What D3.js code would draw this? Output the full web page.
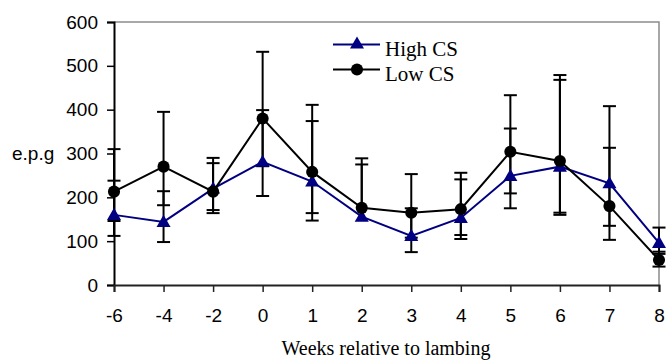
<!DOCTYPE html>
<html>
<head>
<meta charset="utf-8">
<script src="https://cdn.jsdelivr.net/npm/d3@7"></script>
<style>
  html, body { margin: 0; padding: 0; background: #fff; }
  svg { display: block; }
</style>
</head>
<body>
<svg id="chart" width="666" height="360"></svg>
<script>
// Weeks relative to lambing
const weeks = ["-6", "-4", "-2", "0", "1", "2", "3", "4", "5", "6", "7", "8"];
const yTicks = [0, 100, 200, 300, 400, 500, 600];

// High CS: mean e.p.g with lower / upper error limits
const highMean  = [160, 144, 220, 281, 236, 156, 112, 153, 249, 270, 232, 96];
const highLower = [112,  98, 171, 203, 147, 156,  75, 105, 175, 160, 135, 71];
const highUpper = [238, 214, 290, 399, 374, 289, 175, 241, 357, 468, 408, 131];

// Low CS: mean e.p.g with lower / upper error limits
const lowMean  = [213, 270, 213, 380, 258, 176, 165, 173, 304, 283, 180, 57];
const lowLower = [146, 182, 164, 271, 164, 176, 108, 114, 209, 165, 103, 42];
const lowUpper = [310, 395, 278, 532, 411, 275, 253, 256, 433, 479, 313, 76];

const series = [
  { name: "High CS", color: "#000080", symbol: d3.symbolTriangle, mean: highMean, lower: highLower, upper: highUpper },
  { name: "Low CS",  color: "#000000", symbol: d3.symbolCircle,   mean: lowMean,  lower: lowLower,  upper: lowUpper }
];

const svg = d3.select("#chart");
const plot = { left: 114, right: 659, top: 22, bottom: 285 };

const x = d3.scalePoint().domain(weeks).range([plot.left, plot.right]).padding(0);
const y = d3.scaleLinear().domain([0, 600]).range([plot.bottom, plot.top]);

// Frame: grey top and right edges
svg.append("path")
  .attr("d", `M${plot.left},${plot.top}H${plot.right}V${plot.bottom}`)
  .attr("fill", "none").attr("stroke", "#8c8c8c").attr("stroke-width", 1.5);

// Y axis
const yAxis = svg.append("g")
  .attr("transform", `translate(${plot.left},0)`)
  .call(d3.axisLeft(y).tickValues(yTicks).tickSize(7).tickPadding(9).tickFormat(d3.format("d")));
yAxis.select(".domain").attr("stroke", "#000").attr("stroke-width", 2);
yAxis.selectAll(".tick line").attr("stroke", "#000").attr("stroke-width", 1.5);
yAxis.selectAll(".tick text")
  .attr("font-family", "Liberation Sans, Arial, sans-serif")
  .attr("font-size", 19).attr("fill", "#000");

// X axis
const xAxis = svg.append("g")
  .attr("transform", `translate(0,${plot.bottom})`)
  .call(d3.axisBottom(x).tickSize(7).tickPadding(17));
xAxis.select(".domain").attr("stroke", "#222").attr("stroke-width", 2);
xAxis.selectAll(".tick line").attr("stroke", "#222").attr("stroke-width", 1.5);
xAxis.selectAll(".tick text")
  .attr("font-family", "Liberation Sans, Arial, sans-serif")
  .attr("font-size", 19).attr("fill", "#000");

// Axis titles
svg.append("text")
  .attr("x", 12).attr("y", y(300)).attr("dy", "0.35em")
  .attr("font-family", "Liberation Sans, Arial, sans-serif")
  .attr("font-size", 19).attr("fill", "#000")
  .text("e.p.g");

svg.append("text")
  .attr("x", 386).attr("y", 355)
  .attr("text-anchor", "middle")
  .attr("font-family", "Liberation Serif, Times New Roman, serif")
  .attr("font-size", 20).attr("fill", "#000")
  .text("Weeks relative to lambing");

// Error bars
const capHalf = 6.5;
series.forEach(s => {
  const g = svg.append("g").attr("stroke", "#000").attr("stroke-width", 2).attr("fill", "none");
  weeks.forEach((w, i) => {
    const cx = x(w);
    g.append("line").attr("x1", cx).attr("x2", cx)
      .attr("y1", y(s.upper[i])).attr("y2", y(s.lower[i]));
    g.append("line").attr("x1", cx - capHalf).attr("x2", cx + capHalf)
      .attr("y1", y(s.upper[i])).attr("y2", y(s.upper[i]));
    if (s.lower[i] < s.mean[i]) {
      g.append("line").attr("x1", cx - capHalf).attr("x2", cx + capHalf)
        .attr("y1", y(s.lower[i])).attr("y2", y(s.lower[i]));
    }
  });
});

// Lines and markers
const line = d3.line().x((d, i) => x(weeks[i])).y(d => y(d));
series.forEach(s => {
  svg.append("path")
    .attr("d", line(s.mean))
    .attr("fill", "none").attr("stroke", s.color).attr("stroke-width", 2);
  svg.append("g").selectAll("path")
    .data(s.mean)
    .join("path")
    .attr("transform", (d, i) => `translate(${x(weeks[i])},${y(d) + (s.symbol === d3.symbolTriangle ? 1 : 0)})`)
    .attr("d", d3.symbol().type(s.symbol).size(s.symbol === d3.symbolTriangle ? 85 : 115))
    .attr("fill", s.color);
});

// Legend
const legend = svg.append("g");
series.forEach((s, i) => {
  const ly = 44.5 + i * 25;
  legend.append("line")
    .attr("x1", 333).attr("x2", 380).attr("y1", ly).attr("y2", ly)
    .attr("stroke", s.color).attr("stroke-width", 2);
  legend.append("path")
    .attr("transform", `translate(357,${ly})`)
    .attr("d", d3.symbol().type(s.symbol).size(s.symbol === d3.symbolTriangle ? 85 : 115))
    .attr("fill", s.color);
  legend.append("text")
    .attr("x", 385).attr("y", ly + 11.5)
    .attr("font-family", "Liberation Serif, Times New Roman, serif")
    .attr("font-size", 21).attr("fill", "#000")
    .text(s.name);
});
</script>
</body>
</html>
